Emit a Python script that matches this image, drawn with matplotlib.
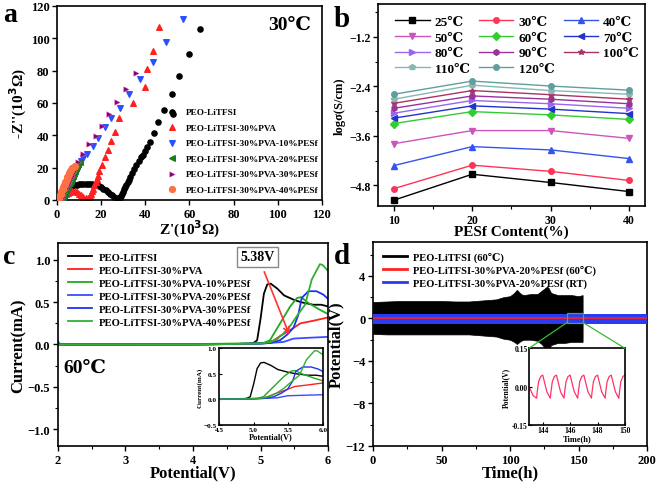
import numpy as np
import matplotlib.pyplot as plt
from matplotlib.patches import Rectangle, ConnectionPatch
from matplotlib.lines import Line2D

plt.rcParams['font.family'] = ['Liberation Serif', 'DejaVu Serif', 'DejaVu Sans']
plt.rcParams['font.weight'] = 'bold'
plt.rcParams['axes.labelweight'] = 'bold'
plt.rcParams['axes.linewidth'] = 1.2

# ---------------- panel a : impedance (10^3 ohm) ----------------
a_black_x = [2.5, 3, 3.5, 4, 4.5, 5, 6, 7, 8, 9, 10, 11, 12, 13, 14, 15, 16, 17, 18, 19, 20, 21, 22, 23, 24, 25, 26, 27, 28,
             28.5, 29, 29.5, 30, 30.5, 31, 31.5, 32, 32.5, 33, 34, 35, 36, 37, 38, 39, 40, 41, 42, 44, 46, 48.7, 52.5, 52.2, 55.5, 59.7, 65]
a_black_y = [0, 1.5, 3, 4.5, 5.5, 6.5, 7.5, 8.5, 9, 9.3, 9.6, 9.8, 10, 10, 10, 9.9, 9.7, 9.4, 9, 8.5, 7.8, 7, 6, 5, 4, 3, 2, 1.2, 1,
             1.5, 2.5, 4, 5, 6.5, 8, 9.5, 11, 12.5, 14, 16.5, 19, 21.5, 24, 26.5, 28, 30.5, 33, 36, 41.5, 48, 55.5, 53, 65.4, 77, 90, 106]
a_red_x = [2, 3, 4, 5, 6, 7, 8, 9, 10, 11, 12, 13, 14, 15, 15.5, 16, 16.5, 17, 17.5, 18, 18.5, 19.1, 20.2, 21.7, 22.9, 24.4,
           26.3, 28.1, 34.6, 39.7, 40.9, 43.3, 46.2]
a_red_y = [0, 2, 3.5, 4.5, 5, 5.5, 5.5, 5, 4, 3, 2, 1, 1, 2.5, 4, 5.5, 7, 9, 11, 13, 15, 18, 21.8, 26.5, 31, 36.6,
           42, 50.6, 60, 70, 81.3, 92, 107]
a_blue_x = [3, 3.5, 4, 4.5, 5, 5.5, 6, 6.5, 7, 7.5, 8, 8.5, 9, 9.5, 10, 10.5, 11, 12, 13.5, 16.1, 18.8, 21.7, 24.7, 28.4,
            32.6, 37.6, 43.3, 49.6, 57.1]
a_blue_y = [0, 1.5, 3, 4.5, 6, 7.5, 9, 10.5, 12, 13.5, 15, 16.5, 18, 19.5, 21, 22.5, 24, 26, 28.4, 33.5, 38.5, 44.9, 51, 57,
            65.6, 75, 85.6, 98, 111.7]
a_green_x = [2.2, 2.7, 3.2, 3.7, 4.2, 4.7, 5.2, 5.7, 6.2, 6.7, 7.2, 7.7, 8.2, 8.7, 9.2, 9.7, 10.5]
a_green_y = [0, 1.5, 3, 4.5, 6, 7.5, 9, 10.5, 12, 13.5, 15, 16.5, 18, 19.5, 21, 22, 23.5]
a_purple_x = [1.8, 2.3, 2.8, 3.3, 3.8, 4.3, 4.8, 5.3, 5.8, 6.3, 6.8, 7.3, 7.8, 8.3, 8.8, 9.3, 11.6, 14.6, 17.6, 20.2, 23.6,
              27.1, 31.1, 35.6]
a_purple_y = [0, 1.5, 3, 4.5, 6, 7.5, 9, 10.5, 12, 13.5, 15, 16.5, 18, 19.5, 21, 23.3, 28.4, 34.6, 39.7, 45.9, 53,
              60.3, 68.9, 78.8]
a_orange_x = [0.5, 0.8, 1.1, 1.4, 1.7, 2, 2.3, 2.6, 2.9, 3.2, 3.5, 3.8, 4.1, 4.4, 4.7, 5, 5.3, 5.6, 5.9, 6.2, 6.6, 7, 7.5, 8]
a_orange_y = [0, 1, 2, 3, 4, 5, 6, 7, 8, 9, 10, 11, 12, 13, 14, 15, 16, 17, 18, 18.5, 19.5, 20, 20.5, 21]
a_labels = ['PEO-LiTFSI', 'PEO-LiTFSI-30%PVA', 'PEO-LiTFSI-30%PVA-10%PESf',
            'PEO-LiTFSI-30%PVA-20%PESf', 'PEO-LiTFSI-30%PVA-30%PESf', 'PEO-LiTFSI-30%PVA-40%PESf']

# ---------------- panel b : log conductivity ----------------
b_content = [10, 20, 30, 40]
b_temps = ['25℃', '30℃', '40℃', '50℃', '60℃', '70℃', '80℃', '90℃', '100℃', '110℃', '120℃']
b_logs = [
    [-5.16, -4.53, -4.73, -4.95],
    [-4.88, -4.31, -4.46, -4.68],
    [-4.32, -3.86, -3.94, -4.15],
    [-3.79, -3.47, -3.47, -3.66],
    [-3.30, -3.01, -3.09, -3.20],
    [-3.17, -2.87, -2.95, -3.06],
    [-3.05, -2.74, -2.82, -2.93],
    [-2.93, -2.63, -2.71, -2.82],
    [-2.81, -2.50, -2.60, -2.71],
    [-2.71, -2.37, -2.50, -2.59],
    [-2.59, -2.27, -2.39, -2.49],
]

# ---------------- panel c : LSV ----------------
c_labels = a_labels
c_black_v = [2.0, 3.0, 4.0, 4.5, 4.85, 4.9, 4.95, 5.0, 5.05, 5.1, 5.15, 5.25, 5.35, 5.49, 5.6, 5.78, 5.9, 6.0]
c_black_i = [0.0, 0.0, 0.0, 0.005, 0.01, 0.02, 0.05, 0.3, 0.6, 0.71, 0.72, 0.66, 0.58, 0.53, 0.5, 0.47, 0.47, 0.45]
c_red_v = [2.0, 3.0, 4.0, 4.5, 4.9, 5.09, 5.2, 5.29, 5.44, 5.59, 5.78, 6.0]
c_red_i = [0.0, 0.0, 0.0, 0.005, 0.01, 0.02, 0.05, 0.1, 0.17, 0.25, 0.28, 0.32]
c_g10_v = [2.0, 3.0, 4.0, 4.5, 4.9, 5.05, 5.14, 5.29, 5.44, 5.54, 5.6, 5.71, 5.88, 6.0]
c_g10_i = [0.0, 0.0, 0.005, 0.01, 0.015, 0.02, 0.05, 0.25, 0.45, 0.55, 0.56, 0.49, 0.41, 0.36]
c_b20_v = [2.0, 2.02, 2.1, 3.0, 4.0, 5.0, 5.34, 5.49, 5.73, 6.0]
c_b20_i = [0.04, 0.01, 0.0, 0.0, 0.0, 0.01, 0.03, 0.07, 0.08, 0.09]
c_b30_v = [2.0, 3.0, 4.0, 5.0, 5.15, 5.29, 5.4, 5.49, 5.56, 5.61, 5.71, 5.83, 5.93, 6.0]
c_b30_i = [0.0, 0.0, 0.0, 0.01, 0.02, 0.05, 0.12, 0.2, 0.35, 0.55, 0.63, 0.63, 0.59, 0.54]
c_g40_v = [2.0, 3.0, 4.0, 5.0, 5.15, 5.24, 5.34, 5.44, 5.55, 5.66, 5.76, 5.88, 5.92, 6.0]
c_g40_i = [0.0, 0.0, 0.0, 0.01, 0.03, 0.06, 0.13, 0.22, 0.35, 0.47, 0.77, 0.95, 0.94, 0.87]

# ---------------- panel d : Li stripping/plating ----------------
d_t = [0, 10, 20, 30, 40, 50, 60, 70, 80, 90, 95, 100, 103, 105, 108, 110, 115, 120, 123, 125, 127, 128, 130, 135, 140, 145, 150, 153]
d_upper = [1.55, 1.6, 1.65, 1.65, 1.65, 1.65, 1.6, 1.6, 1.7, 1.8, 2.0, 2.1, 2.4, 2.7, 2.3, 2.2, 2.3, 2.3, 2.6, 2.8, 3.0, 2.9,
           2.4, 2.2, 2.2, 2.2, 2.1, 2.2]
d_lower = [-1.45, -1.5, -1.5, -1.5, -1.5, -1.5, -1.5, -1.5, -1.6, -1.7, -1.9, -2.0, -2.2, -2.4, -2.1, -2.0, -2.0, -2.1, -2.4,
           -2.7, -3.2, -3.0, -2.5, -2.3, -2.3, -2.2, -2.2, -2.2]
d_band_t = [0, 200]
d_band_hi = [0.45, 0.45]
d_band_lo = [-0.55, -0.55]
d_red_t = [0, 200]
d_red_v = [0, 0]
d_labels = ['PEO-LiTFSI (60℃)', 'PEO-LiTFSI-30%PVA-20%PESf (60℃)', 'PEO-LiTFSI-30%PVA-20%PESf (RT)']
# inset: zoomed voltage profile
d_in_t = [143.0, 143.3, 143.55, 143.6, 143.7, 143.85, 144.0,
          144.3, 144.55, 144.6, 144.7, 144.85, 145.0,
          145.3, 145.55, 145.6, 145.7, 145.85, 146.0,
          146.3, 146.55, 146.6, 146.7, 146.85, 147.0,
          147.3, 147.55, 147.6, 147.7, 147.85, 148.0,
          148.3, 148.55, 148.6, 148.7, 148.85, 149.0,
          149.3, 149.55, 149.6, 149.7, 149.85, 150.0]
d_in_v = [0.0, -0.035, -0.045, -0.02, 0.02, 0.04, 0.045,
          -0.02, -0.045, -0.02, 0.02, 0.04, 0.045,
          -0.02, -0.045, -0.02, 0.02, 0.04, 0.045,
          -0.02, -0.045, -0.02, 0.02, 0.04, 0.045,
          -0.02, -0.045, -0.02, 0.02, 0.04, 0.045,
          -0.02, -0.045, -0.02, 0.02, 0.04, 0.045,
          -0.02, -0.045, -0.02, 0.02, 0.04, 0.045]

fig = plt.figure(figsize=(6.58, 4.85), dpi=100)


def style(ax, size=9):
    ax.tick_params(which='both', direction='out', labelsize=size, pad=2)
    ax.tick_params(which='major', length=3.5, width=1)
    ax.tick_params(which='minor', length=2, width=0.8)
    for lab in ax.get_xticklabels() + ax.get_yticklabels():
        lab.set_fontweight('bold')


# ===== a =====
ax = fig.add_axes([0.0866, 0.5856, 0.4024, 0.4])
ax.scatter(a_black_x, a_black_y, s=14, color='black', marker='o', label=a_labels[0], zorder=2)
ax.scatter(a_red_x, a_red_y, s=16, color='#ff2020', marker='^', label=a_labels[1], zorder=2)
ax.scatter(a_blue_x, a_blue_y, s=16, color='#2a4fff', marker='v', label=a_labels[2], zorder=3)
ax.scatter(a_green_x, a_green_y, s=16, color='#1b7a1b', marker='<', label=a_labels[3], zorder=3)
ax.scatter(a_purple_x, a_purple_y, s=16, color='#7a0a6e', edgecolors='#ff55cc', linewidths=0.3, marker='>', label=a_labels[4], zorder=3)
ax.scatter(a_orange_x, a_orange_y, s=18, color='#ff7043', marker='o', label=a_labels[5], zorder=4)
ax.set_xlim(0, 120)
ax.set_ylim(0, 120)
ax.set_xticks(np.arange(0, 121, 20))
ax.set_yticks(np.arange(0, 121, 20))
ax.set_xlabel("Z'(10$^3$Ω)", fontsize=11, labelpad=-1)
ax.set_ylabel("-Z''(10$^3$Ω)", fontsize=11, labelpad=1)
style(ax)
ax.text(0.96, 0.95, '30℃', transform=ax.transAxes, ha='right', va='top', fontsize=14, fontweight='bold')
ax.legend(loc='upper left', bbox_to_anchor=(0.38, 0.5), frameon=False, fontsize=6.7, handletextpad=0.5,
          labelspacing=0.75, markerscale=1.0, borderpad=0)
fig.text(0.005, 0.955, 'a', fontsize=20)

# ===== b =====
ax = fig.add_axes([0.5745, 0.5732, 0.4055, 0.4165])
b_colors = ['black', '#ff3355', '#3355ee', '#cc55bb', '#33cc33', '#2233cc', '#9966ee', '#993399', '#aa3366',
            '#88b8b0', '#5f9f9f']
b_markers = ['s', 'o', '^', 'v', 'D', '<', '>', 'h', '*', 'p', 'o']
for vals, col, mk, lab in zip(b_logs, b_colors, b_markers, b_temps):
    ax.plot(b_content, vals, color=col, marker=mk, markersize=4, linewidth=1.0, label=lab)
ax.set_xlim(8, 42)
ax.set_ylim(-5.3, -0.4)
ax.set_xticks(b_content)
ax.set_yticks([-4.8, -3.6, -2.4, -1.2])
ax.set_xticks([15, 25, 35], minor=True)
ax.set_yticks(np.arange(-4.8, -0.5, 0.6), minor=True)
ax.set_xlabel('PESf Content(%)', fontsize=11, labelpad=-1)
ax.set_ylabel('logσ(S/cm)', fontsize=9, labelpad=2)
style(ax, 8.5)
# legend filled row by row like the original
h, l = ax.get_legend_handles_labels()
order = [0, 3, 6, 9, 1, 4, 7, 10, 2, 5, 8]
ax.legend([h[k] for k in order], [l[k] for k in order], loc='upper left', bbox_to_anchor=(0.02, 1.0), ncol=3,
          frameon=False, fontsize=9.5, handlelength=2.6, columnspacing=0.7, labelspacing=0.25, handletextpad=0.4)
fig.text(0.507, 0.945, 'b', fontsize=21)

# ===== c =====
ax = fig.add_axes([0.0881, 0.0784, 0.4104, 0.4185])
c_data = [(c_black_v, c_black_i, 'black'), (c_red_v, c_red_i, '#ff2020'), (c_g10_v, c_g10_i, '#22aa22'),
          (c_b20_v, c_b20_i, '#3a4cff'), (c_b30_v, c_b30_i, '#1a33ee'), (c_g40_v, c_g40_i, '#30b030')]
for (v, i, col), lab in zip(c_data, c_labels):
    ax.plot(v, i, color=col, linewidth=1.3, label=lab)
ax.set_xlim(2, 6)
ax.set_ylim(-1.2, 1.2)
ax.set_xticks([2, 3, 4, 5, 6])
ax.set_xticks([2.5, 3.5, 4.5, 5.5], minor=True)
ax.set_yticks([-1.0, -0.5, 0.0, 0.5, 1.0])
ax.set_yticks([-0.75, -0.25, 0.25, 0.75], minor=True)
ax.set_xlabel('Potential(V)', fontsize=12, labelpad=-1)
ax.set_ylabel('Current(mA)', fontsize=12, labelpad=1)
style(ax)
ax.legend(loc='upper left', bbox_to_anchor=(0.0, 1.0), frameon=False, fontsize=7.7, handlelength=2.3,
          labelspacing=0.32, handletextpad=0.6)
ax.text(2.08, -0.27, '60℃', fontsize=14, fontweight='bold', va='center')
ax.text(4.95, 1.04, '5.38V', fontsize=10, fontweight='bold', ha='center', va='center',
        bbox=dict(boxstyle='square,pad=0.25', fc='white', ec='#888888', lw=1))
ax.annotate('', xy=(5.44, 0.09), xytext=(5.04, 0.89),
            arrowprops=dict(arrowstyle='->', color='#ff3333', lw=1.2))
fig.text(0.005, 0.455, 'c', fontsize=20)

axi = fig.add_axes([0.3328, 0.1216, 0.1581, 0.1588])
for v, i, col in c_data:
    axi.plot(v, i, color=col, linewidth=1.0)
axi.set_xlim(4.5, 6.0)
axi.set_ylim(-0.5, 1.0)
axi.set_xticks([4.5, 5.0, 5.5, 6.0])
axi.set_yticks([-0.5, 0.0, 0.5, 1.0])
axi.set_xlabel('Potential(V)', fontsize=6, labelpad=0)
axi.set_ylabel('Current(mA)', fontsize=5, labelpad=1)
axi.tick_params(direction='in', labelsize=5.2, length=2, pad=1.5)
for lab in axi.get_xticklabels() + axi.get_yticklabels():
    lab.set_fontweight('bold')

# ===== d =====
ax = fig.add_axes([0.5669, 0.0784, 0.4164, 0.4206])
ax.fill_between(d_t, d_lower, d_upper, color='black', linewidth=0.5)
ax.plot(d_red_t, d_red_v, color='#ff2020', linewidth=1.2, zorder=4)
ax.fill_between(d_band_t, d_band_lo, d_band_hi, color='#2a3cf0', linewidth=0, zorder=3)
hl = [Line2D([], [], color='black', lw=2), Line2D([], [], color='#ff2020', lw=2), Line2D([], [], color='#2a3cf0', lw=2)]
ax.legend(hl, d_labels, loc='upper left', bbox_to_anchor=(0.0, 1.0), frameon=False, fontsize=7.6, handlelength=2.3,
          labelspacing=0.3, handletextpad=0.6)
ax.set_xlim(0, 200)
ax.set_ylim(-12, 7.2)
ax.set_xticks([0, 50, 100, 150, 200])
ax.set_xticks([25, 75, 125, 175], minor=True)
ax.set_yticks([-12, -8, -4, 0, 4])
ax.set_yticks([-10, -6, -2, 2, 6], minor=True)
ax.set_xlabel('Time(h)', fontsize=12, labelpad=-1)
ax.set_ylabel('Potential(V)', fontsize=12, labelpad=1)
style(ax)
ax.add_patch(Rectangle((141.6, -0.38), 11.7, 0.94, fill=False, ec='#33bb33', lw=0.9, zorder=5))
fig.text(0.507, 0.455, 'd', fontsize=21)

axd = fig.add_axes([0.804, 0.1216, 0.1458, 0.1582])
axd.plot(d_in_t, d_in_v, color='#ff3366', linewidth=0.9)
axd.set_xlim(143, 150)
axd.set_ylim(-0.15, 0.15)
axd.set_xticks([144, 146, 148, 150])
axd.set_yticks([-0.15, 0.0, 0.15])
axd.set_yticklabels(['-0.15', '0.00', '0.15'])
axd.set_xlabel('Time(h)', fontsize=6, labelpad=0)
axd.set_ylabel('Potential(V)', fontsize=5.5, labelpad=1)
axd.tick_params(direction='in', labelsize=5.5, length=2, pad=1)
for lab in axd.get_xticklabels() + axd.get_yticklabels():
    lab.set_fontweight('bold')
for xa, xb in [((141.6, -0.38), (0, 1)), ((153.3, -0.38), (1, 1))]:
    con = ConnectionPatch(xyA=xa, coordsA=ax.transData, xyB=xb, coordsB=axd.transAxes, color='#33bb33', lw=0.9)
    fig.add_artist(con)

plt.savefig('out.png', dpi=100)
